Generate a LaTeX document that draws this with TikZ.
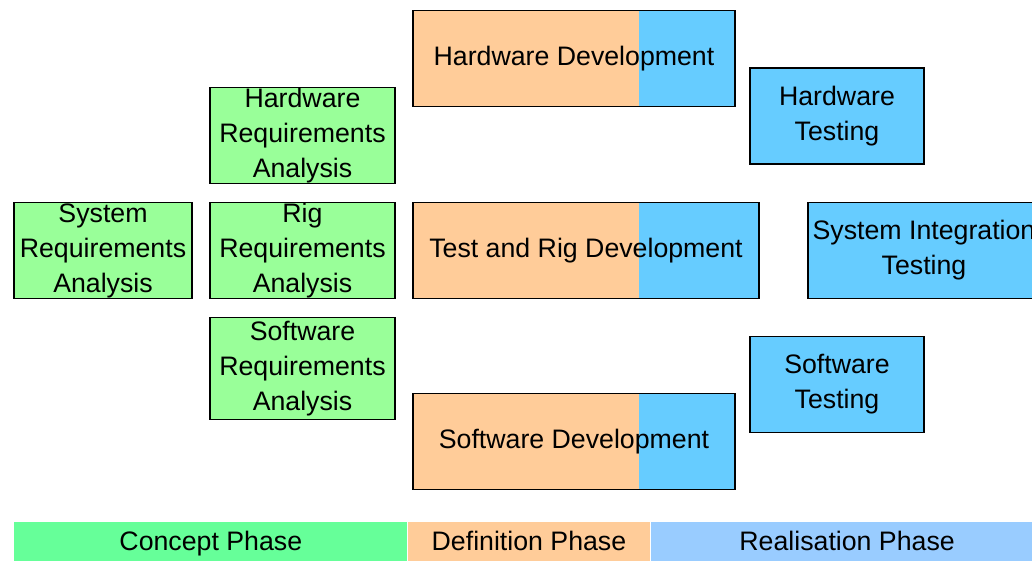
\documentclass[tikz,border=0pt]{standalone}
\usepackage{fontspec}
\setmainfont{Liberation Sans}
\usepackage{tikz}
\usetikzlibrary{positioning}
\definecolor{reqgreen}{HTML}{99FF99}
\definecolor{devorange}{HTML}{FFCC99}
\definecolor{testblue}{HTML}{66CCFF}
\definecolor{conceptgreen}{HTML}{66FF99}
\definecolor{realblue}{HTML}{99CCFF}
\tikzset{
    task/.style={
           rectangle,
           draw=black, line width=1pt,
           minimum height=2.4cm,
           inner sep=0pt,
           align=center,
           font=\fontsize{19}{24.9}\selectfont,
           },
    req/.style={task, fill=reqgreen, minimum width=4.625cm},
    test/.style={task, fill=testblue, minimum width=4.35cm},
    dev/.style={task, fill=devorange,
           path picture={\fill[testblue]
               ([xshift=5.65cm]path picture bounding box.south west)
               rectangle (path picture bounding box.north east);}},
    phase/.style={
           rectangle,
           minimum height=1.15cm,
           inner sep=0pt,
           text height=0.85em, text depth=0.1em,
           font=\fontsize{19}{24.9}\selectfont,
           },
}
\begin{document}
\begin{tikzpicture}[x=0.025cm, y=-0.025cm]
    \useasboundingbox (0,0) rectangle (1032,560);

    % Concept phase: requirements analysis
    \node[req, minimum width=4.45cm] (sysreq) at (103,250.5)
    {System\\Requirements\\Analysis};
    \node[req] (hwreq) at (302.5,135.5) {Hardware\\Requirements\\Analysis};
    \node[req] (rigreq) at (302.5,250.5) {Rig\\Requirements\\Analysis};
    \node[req, minimum height=2.55cm] (swreq) at (302.5,368.5)
    {Software\\Requirements\\Analysis};

    % Definition / realisation: development (split fill)
    \node[dev, minimum width=8.05cm] (hwdev) at (574,58.5) {Hardware Development};
    \node[dev, minimum width=8.65cm] (rigdev) at (586,250.5) {Test and Rig Development};
    \node[dev, minimum width=8.05cm] (swdev) at (574,441.5) {Software Development};

    % Realisation phase: testing
    \node[test] (hwtest) at (837,116) {Hardware\\Testing};
    \node[test] (swtest) at (837,384.5) {Software\\Testing};
    \node[test, minimum width=5.8cm] (systest) at (924,250.5)
    {System Integration\\Testing};

    % Phase bar along the bottom
    \node[phase, fill=conceptgreen, minimum width=9.825cm,
    anchor=north west] (concept) at (14,522) {Concept Phase};
    \node[phase, fill=devorange, minimum width=6.05cm,
    right=0pt of concept] (definition) {Definition Phase};
    \node[phase, fill=realblue, minimum width=9.825cm,
    right=0pt of definition] (realisation) {Realisation Phase};
\end{tikzpicture}
\end{document}
